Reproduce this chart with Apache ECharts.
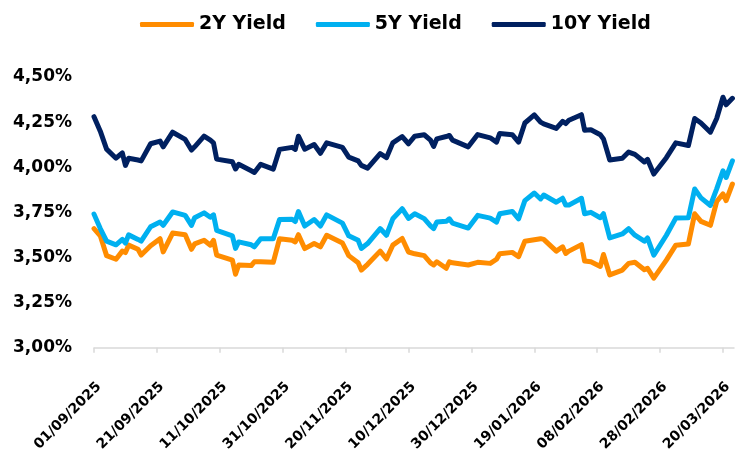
<!DOCTYPE html>
<html>
<head>
<meta charset="utf-8">
<script src="https://cdn.jsdelivr.net/npm/echarts@6/dist/echarts.min.js"></script>
<style>
  html, body { margin: 0; padding: 0; background: #fff; }
  #chart { width: 735px; height: 454px; }
</style>
</head>
<body>
<div id="chart"></div>
<script>
var dates = [
    '2025-09-01','2025-09-03','2025-09-05','2025-09-08','2025-09-10','2025-09-11','2025-09-12','2025-09-15','2025-09-16','2025-09-19',
    '2025-09-22','2025-09-23','2025-09-26','2025-09-30','2025-10-02','2025-10-03','2025-10-06','2025-10-08','2025-10-09','2025-10-10',
    '2025-10-15','2025-10-16','2025-10-17','2025-10-21','2025-10-22','2025-10-24','2025-10-28','2025-10-30','2025-11-03','2025-11-04',
    '2025-11-05','2025-11-07','2025-11-10','2025-11-12','2025-11-14','2025-11-19','2025-11-21','2025-11-24','2025-11-25','2025-11-27',
    '2025-12-01','2025-12-03','2025-12-05','2025-12-08','2025-12-10','2025-12-12','2025-12-15','2025-12-17','2025-12-18','2025-12-19',
    '2025-12-22','2025-12-23','2025-12-24','2025-12-29','2026-01-01','2026-01-05','2026-01-07','2026-01-08','2026-01-12','2026-01-14',
    '2026-01-16','2026-01-19','2026-01-21','2026-01-22','2026-01-26','2026-01-28','2026-01-29','2026-01-30','2026-02-03','2026-02-04',
    '2026-02-06','2026-02-09','2026-02-10','2026-02-12','2026-02-16','2026-02-18','2026-02-20','2026-02-23','2026-02-24','2026-02-26',
    '2026-03-02','2026-03-05','2026-03-09','2026-03-11','2026-03-13','2026-03-16','2026-03-18','2026-03-20','2026-03-21','2026-03-23'
];

var yield2Y = [
    3.66,3.62,3.51,3.49,3.535,3.527,3.568,3.545,3.513,3.565,
    3.604,3.531,3.635,3.626,3.545,3.575,3.595,3.568,3.595,3.513,
    3.485,3.407,3.458,3.455,3.476,3.476,3.473,3.604,3.595,3.586,
    3.626,3.549,3.577,3.559,3.623,3.58,3.51,3.47,3.43,3.462,
    3.535,3.491,3.568,3.605,3.53,3.52,3.51,3.47,3.458,3.476,
    3.44,3.476,3.47,3.458,3.473,3.467,3.49,3.52,3.528,3.504,
    3.59,3.598,3.604,3.60,3.535,3.559,3.522,3.535,3.571,3.48,
    3.476,3.45,3.516,3.403,3.43,3.467,3.473,3.432,3.44,3.385,
    3.485,3.568,3.575,3.742,3.70,3.678,3.81,3.852,3.815,3.907
];

var yield5Y = [
    3.74,3.66,3.59,3.57,3.60,3.58,3.625,3.60,3.59,3.67,
    3.696,3.678,3.752,3.733,3.678,3.72,3.747,3.723,3.736,3.65,
    3.62,3.55,3.586,3.57,3.559,3.604,3.604,3.71,3.712,3.699,
    3.754,3.674,3.71,3.674,3.736,3.69,3.62,3.595,3.55,3.577,
    3.66,3.623,3.714,3.77,3.716,3.742,3.715,3.675,3.66,3.696,
    3.70,3.714,3.69,3.663,3.733,3.718,3.696,3.742,3.755,3.714,
    3.815,3.857,3.824,3.846,3.806,3.828,3.79,3.79,3.828,3.742,
    3.75,3.72,3.742,3.608,3.63,3.659,3.623,3.59,3.608,3.513,
    3.623,3.718,3.72,3.879,3.83,3.788,3.88,3.98,3.943,4.035
];

var yield10Y = [
    4.28,4.20,4.10,4.05,4.08,4.01,4.05,4.04,4.035,4.13,
    4.145,4.113,4.194,4.154,4.095,4.113,4.172,4.15,4.135,4.045,
    4.03,3.99,4.016,3.98,3.971,4.016,3.989,4.099,4.11,4.099,
    4.172,4.10,4.126,4.077,4.135,4.11,4.056,4.035,4.01,3.995,
    4.075,4.053,4.135,4.17,4.13,4.172,4.18,4.15,4.115,4.157,
    4.17,4.176,4.15,4.113,4.181,4.163,4.139,4.187,4.18,4.139,
    4.245,4.29,4.25,4.24,4.215,4.254,4.242,4.26,4.291,4.205,
    4.208,4.18,4.157,4.04,4.05,4.084,4.071,4.029,4.044,3.962,
    4.053,4.135,4.12,4.27,4.245,4.194,4.27,4.388,4.346,4.382
];

var seriesNames = ['2Y Yield', '5Y Yield', '10Y Yield'];
var seriesColors = ['#FF8C00', '#00B0F0', '#002060'];
var dateTicks = [0, 20, 40, 60, 80, 100, 120, 140, 160, 180, 200];

var DAY = 86400000;
var startTime = Date.UTC(2025, 8, 1);
var font = 'DejaVu Sans';

var toDay = function (s) {
    var p = s.split('-');
    return (Date.UTC(+p[0], +p[1] - 1, +p[2]) - startTime) / DAY;
};

var pad = function (n) { return n < 10 ? '0' + n : '' + n; };

// day offset -> dd/mm/yyyy
var dayLabel = function (d) {
    var t = new Date(startTime + Math.round(d) * DAY);
    return pad(t.getUTCDate()) + '/' + pad(t.getUTCMonth() + 1) + '/' + t.getUTCFullYear();
};

var pairs = function (values) {
    return values.map(function (v, i) { return [toDay(dates[i]), v]; });
};

var allValues = [yield2Y, yield5Y, yield10Y];

var chart = echarts.init(document.getElementById('chart'));
chart.setOption({
    backgroundColor: '#ffffff',
    animation: false,
    textStyle: { fontFamily: font },
    legend: {
        left: 135,
        top: 10,
        itemWidth: 54,
        itemHeight: 5,
        itemGap: 30,
        icon: 'roundRect',
        textStyle: { fontSize: 19, fontWeight: 'bold', color: '#000', fontFamily: font },
        data: seriesNames
    },
    grid: { left: 94, right: 0, top: 77, bottom: 104 },
    xAxis: {
        type: 'value',
        min: 0,
        max: 203.5,
        interval: 20,
        splitLine: { show: false },
        axisLine: { show: true, lineStyle: { color: '#d9d9d9', width: 1.5 } },
        axisTick: { show: true, length: 5, customValues: dateTicks, lineStyle: { color: '#d9d9d9', width: 1.5 } },
        axisLabel: {
            customValues: dateTicks,
            rotate: 45,
            margin: 32,
            align: 'right',
            verticalAlign: 'top',
            fontSize: 14,
            fontWeight: 'bold',
            color: '#000',
            fontFamily: font,
            formatter: dayLabel
        }
    },
    yAxis: {
        type: 'value',
        min: 3,
        max: 4.5,
        interval: 0.25,
        splitLine: { show: false },
        axisLine: { show: false },
        axisTick: { show: false },
        axisLabel: {
            margin: 22,
            fontSize: 17,
            fontWeight: 'bold',
            color: '#000',
            fontFamily: font,
            formatter: function (v) { return v.toFixed(2).replace('.', ',') + '%'; }
        }
    },
    series: seriesNames.map(function (name, i) {
        return {
            name: name,
            type: 'line',
            showSymbol: false,
            symbol: 'none',
            color: seriesColors[i],
            lineStyle: { width: 5, color: seriesColors[i], join: 'round', cap: 'round' },
            data: pairs(allValues[i])
        };
    })
});
</script>
</body>
</html>
